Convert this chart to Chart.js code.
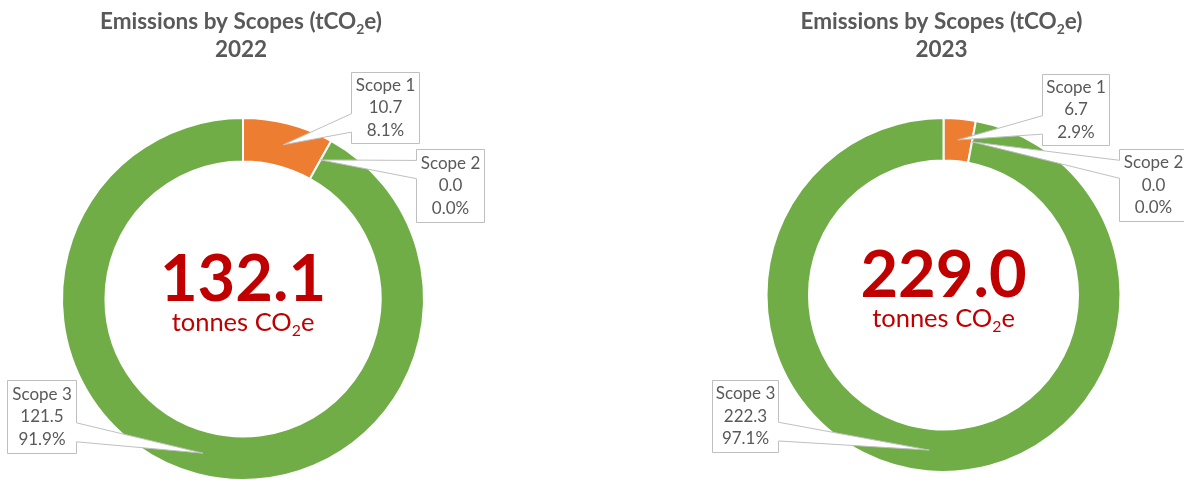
<!DOCTYPE html>
<html>
<head>
<meta charset="utf-8">
<script src="https://cdn.jsdelivr.net/npm/chart.js@4"></script>
<style>
  html, body { margin: 0; padding: 0; background: #fff; overflow: hidden; }
  .panel { position: absolute; top: 0; width: 592px; height: 520px; }
</style>
</head>
<body>
<div class="panel" style="left:0"><canvas id="chart2022" width="592" height="520"></canvas></div>
<div class="panel" style="left:592px"><canvas id="chart2023" width="592" height="520"></canvas></div>
<script>
// data
const years = ['2022', '2023'];
const scopes = ['Scope 1', 'Scope 2', 'Scope 3'];
const emissions2022 = [10.7, 0.0, 121.5];
const emissions2023 = [6.7, 0.0, 222.3];
const totals = [132.1, 229.0];
const scopeColors = ['#ED7D31', '#A5A5A5', '#70AD47'];

const FONT = 'Lato, "Open Sans", sans-serif';
const GREY = '#595959';
const RED = '#C00000';

// draw a line of text that may contain a subscript part
function drawRich(ctx, parts, x, y, size, weight, color) {
    let total = 0;
    const widths = parts.map(p => {
        ctx.font = weight + ' ' + (p[1] ? size * 0.62 : size) + 'px ' + FONT;
        const w = ctx.measureText(p[0]).width;
        total += w;
        return w;
    });
    let px = x - total / 2;
    ctx.fillStyle = color;
    ctx.textAlign = 'left';
    ctx.textBaseline = 'alphabetic';
    parts.forEach((p, i) => {
        ctx.font = weight + ' ' + (p[1] ? size * 0.62 : size) + 'px ' + FONT;
        ctx.fillText(p[0], px, p[1] ? y + size * 0.2 : y);
        px += widths[i];
    });
}

// callout box with a wedge pointing at the slice
function drawCallout(ctx, box, tip, lines) {
    const {x, y, w, h} = box;
    const below = tip.y > y + h / 2;
    const b1 = y + h * (below ? 0.58 : 0.15);
    const b2 = y + h * (below ? 0.84 : 0.40);
    ctx.beginPath();
    if (tip.x > x + w) {
        ctx.moveTo(x, y);
        ctx.lineTo(x + w, y);
        ctx.lineTo(x + w, b1);
        ctx.lineTo(tip.x, tip.y);
        ctx.lineTo(x + w, b2);
        ctx.lineTo(x + w, y + h);
        ctx.lineTo(x, y + h);
    } else {
        ctx.moveTo(x, y);
        ctx.lineTo(x + w, y);
        ctx.lineTo(x + w, y + h);
        ctx.lineTo(x, y + h);
        ctx.lineTo(x, b2);
        ctx.lineTo(tip.x, tip.y);
        ctx.lineTo(x, b1);
    }
    ctx.closePath();
    ctx.fillStyle = '#fff';
    ctx.fill();
    ctx.strokeStyle = '#BFBFBF';
    ctx.lineWidth = 1;
    ctx.stroke();

    ctx.fillStyle = GREY;
    ctx.font = '17px ' + FONT;
    ctx.textAlign = 'center';
    ctx.textBaseline = 'middle';
    lines.forEach((t, i) => {
        ctx.fillText(t, x + w / 2, y + h / 2 + (i - 1) * 22.5);
    });
}

const scopePlugin = {
    id: 'scopeDecor',
    afterDraw(chart, args, opts) {
        const ctx = chart.ctx;
        const meta = chart.getDatasetMeta(0);
        const cx = meta.data[0].x;
        const cy = meta.data[0].y;
        const values = chart.data.datasets[0].data;
        const sum = values.reduce((a, b) => a + b, 0);

        ctx.save();
        // title
        drawRich(ctx, [['Emissions by Scopes (tCO', false], ['2', true], ['e)', false]],
            cx - 2, 29, 22.5, 'bold', GREY);
        drawRich(ctx, [[opts.year, false]], cx - 2, 57, 22.5, 'bold', GREY);

        // total in the middle
        drawRich(ctx, [[opts.total.toFixed(1), false]], cx, cy + 2, 65, 'bold', RED);
        drawRich(ctx, [['tonnes CO', false], ['2', true], ['e', false]], cx, cy + 32, 25.5, 'normal', RED);

        // callouts
        meta.data.forEach((arc, i) => {
            const tip = arc.tooltipPosition();
            const v = values[i];
            drawCallout(ctx, opts.boxes[i], tip, [
                chart.data.labels[i],
                v.toFixed(1),
                (v / sum * 100).toFixed(1) + '%'
            ]);
        });
        ctx.restore();
    }
};

function makeChart(id, values, year, total, padding, boxes) {
    return new Chart(document.getElementById(id), {
        type: 'doughnut',
        data: {
            labels: scopes,
            datasets: [{
                data: values,
                backgroundColor: scopeColors,
                borderColor: '#ffffff',
                borderWidth: 2
            }]
        },
        options: {
            responsive: false,
            devicePixelRatio: 1,
            animation: false,
            cutout: '76%',
            layout: { padding: padding },
            plugins: {
                legend: { display: false },
                tooltip: { enabled: false },
                scopeDecor: { year: year, total: total, boxes: boxes }
            }
        },
        plugins: [scopePlugin]
    });
}

makeChart('chart2022', emissions2022, years[0], totals[0],
    { left: 61, top: 117, right: 167, bottom: 39 },
    [
        { x: 351.5, y: 72.5, w: 68, h: 71 },
        { x: 416.5, y: 149.5, w: 68, h: 73 },
        { x: 7.5, y: 380.5, w: 69, h: 73 }
    ]);

makeChart('chart2023', emissions2023, years[1], totals[1],
    { left: 173, top: 117, right: 62, bottom: 47 },
    [
        { x: 450.5, y: 74.5, w: 67, h: 71 },
        { x: 527.5, y: 149.5, w: 68, h: 72 },
        { x: 120.5, y: 380.5, w: 66, h: 72 }
    ]);
</script>
</body>
</html>
